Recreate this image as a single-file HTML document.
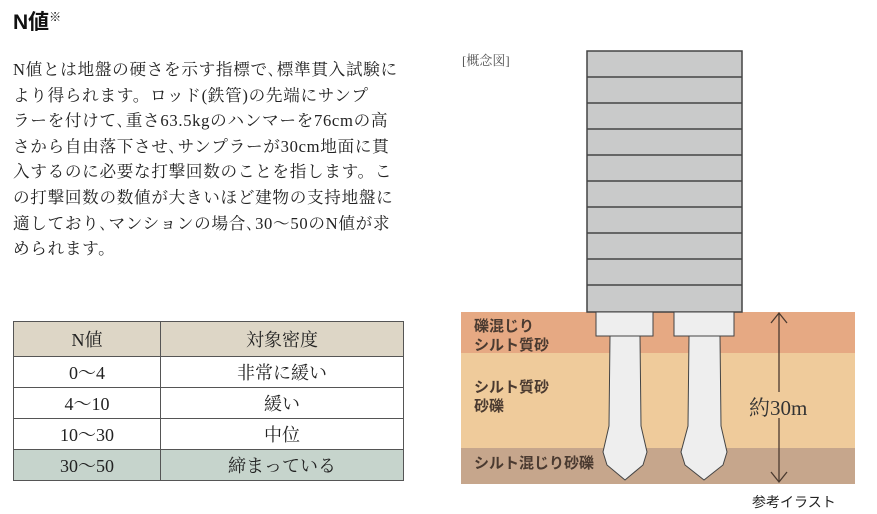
<!DOCTYPE html>
<html><head><meta charset="utf-8"><style>
body{margin:0;width:877px;height:514px;background:#fff;position:relative;overflow:hidden;font-family:"Liberation Serif","Noto Serif CJK SC","Noto Sans CJK JP",serif;color:#222}
.a{position:absolute;white-space:nowrap}
.t{left:13px;top:6px;font:bold 21px "Liberation Sans","Noto Sans CJK JP",sans-serif;color:#111}
.t sup{font-size:12px;font-weight:normal;vertical-align:8px}
.p{left:13px;font-size:16.6px;line-height:25.6px;top:57px;letter-spacing:0.7px}
table{position:absolute;left:13px;top:321px;width:391px;border-collapse:collapse;font-size:18px}
td{border:1.5px solid #555;text-align:center;height:30px;padding:0}
tr.h td{background:#ddd6c6;height:34px}
tr.g td{background:#c6d4cc}
.lb{font-family:"Liberation Sans","Noto Sans CJK JP",sans-serif;font-weight:bold;font-size:15px;color:#4a3a30}
</style></head><body>
<div class="a t">N値<sup>※</sup></div>
<div class="a p">N値とは地盤の硬さを示す指標で､標準貫入試験に<br>より得られます。ロッド(鉄管)の先端にサンプ<br>ラーを付けて､重さ63.5kgのハンマーを76cmの高<br>さから自由落下させ､サンプラーが30cm地面に貫<br>入するのに必要な打撃回数のことを指します。こ<br>の打撃回数の数値が大きいほど建物の支持地盤に<br>適しており､マンションの場合､30～50のN値が求<br>められます。</div>
<table>
<tr class="h"><td style="width:146px">N値</td><td>対象密度</td></tr>
<tr><td>0～4</td><td>非常に緩い</td></tr>
<tr><td>4～10</td><td>緩い</td></tr>
<tr><td>10～30</td><td>中位</td></tr>
<tr class="g"><td>30～50</td><td>締まっている</td></tr>
</table>
<svg class="a" style="left:0;top:0" width="877" height="514">
<rect x="461" y="312" width="394" height="41" fill="#e6a983"/>
<rect x="461" y="353" width="394" height="95" fill="#efcb9b"/>
<rect x="461" y="448" width="394" height="36" fill="#c6a68c"/>
<rect x="587" y="51" width="155" height="261" fill="#c9caca" stroke="#444" stroke-width="1.5"/>
<g stroke="#444" stroke-width="1.5">
<line x1="587" y1="77" x2="742" y2="77"/><line x1="587" y1="103" x2="742" y2="103"/><line x1="587" y1="129" x2="742" y2="129"/><line x1="587" y1="155" x2="742" y2="155"/><line x1="587" y1="181" x2="742" y2="181"/><line x1="587" y1="207" x2="742" y2="207"/><line x1="587" y1="233" x2="742" y2="233"/><line x1="587" y1="259" x2="742" y2="259"/><line x1="587" y1="285" x2="742" y2="285"/>
</g>
<g fill="#eeeeee" stroke="#444" stroke-width="1">
<rect x="596" y="312" width="57" height="24"/><rect x="674" y="312" width="60" height="24"/>
<path d="M610 336 L640 336 L641 426 L647 452 L643 465 L625 480 L607 465 L603 452 L609 426 Z"/>
<path d="M689 336 L720 336 L721 426 L727 452 L723 465 L704 480 L685 465 L681 452 L688 426 Z"/>
</g>
<g stroke="#4a3a30" stroke-width="1.3" fill="none">
<line x1="779" y1="313" x2="779" y2="392"/><line x1="779" y1="418" x2="779" y2="482"/>
<path d="M771 323 L779 313 L787 323"/><path d="M771 472 L779 482 L787 472"/>
</g>
</svg>
<div class="a" style="left:749px;top:392px;font-size:21px;color:#333">約30m</div>
<div class="a lb" style="left:474px;top:315px">礫混じり</div>
<div class="a lb" style="left:474px;top:334px">シルト質砂</div>
<div class="a lb" style="left:474px;top:376px">シルト質砂</div>
<div class="a lb" style="left:474px;top:395px">砂礫</div>
<div class="a lb" style="left:474px;top:452px">シルト混じり砂礫</div>
<div class="a" style="left:462px;top:50px;font-size:13px;color:#555">[概念図]</div>
<div class="a" style="left:752px;top:492px;font-size:14px;color:#222;font-family:'Liberation Sans','Noto Sans CJK JP',sans-serif">参考イラスト</div>
</body></html>
